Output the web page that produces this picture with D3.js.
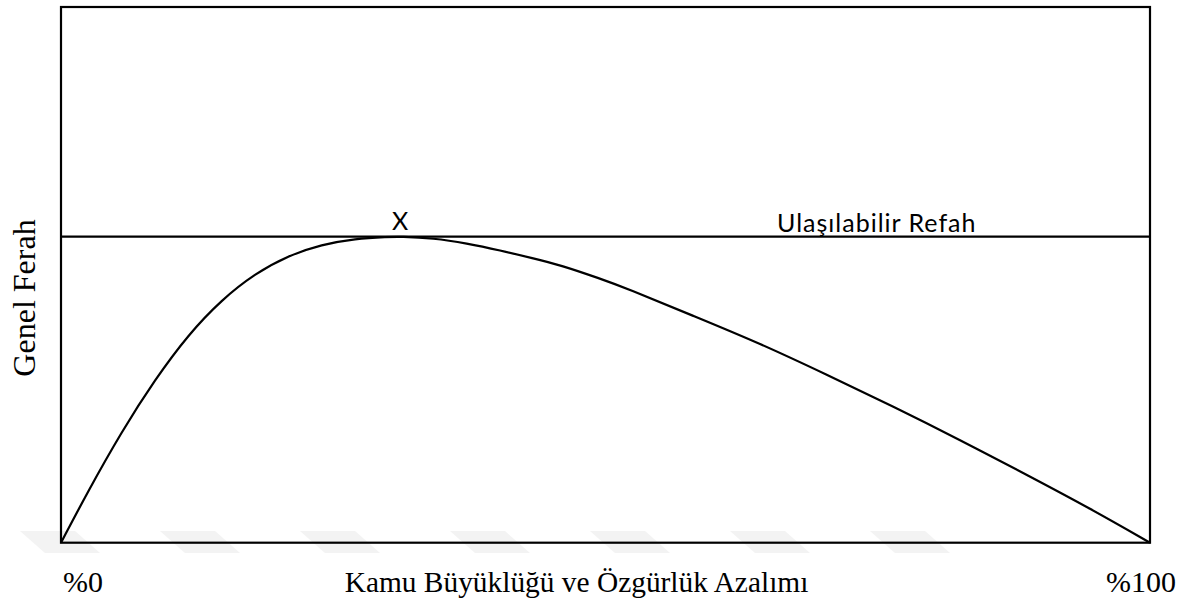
<!DOCTYPE html>
<html>
<head>
<meta charset="utf-8">
<script src="https://cdn.jsdelivr.net/npm/d3@7"></script>
<style>
  html, body { margin: 0; padding: 0; background: #fff; }
  svg { display: block; }
</style>
</head>
<body>
<svg id="chart" width="1188" height="603"></svg>
<script>
// ---- data ----
const curveX = [0, 2.51, 5.57, 8.63, 11.69, 14.76, 17.81, 20.87, 23.94, 27.0, 30.05, 31.13, 34.19, 37.25, 40.31, 43.37, 45.82, 49.49, 51.94, 58.06, 64.19, 70.31, 76.43, 82.55, 88.98, 94.49, 100];
const curveY = [0, 0.170, 0.363, 0.533, 0.680, 0.794, 0.879, 0.938, 0.974, 0.993, 0.999, 1.0, 0.995, 0.978, 0.955, 0.929, 0.9075, 0.863, 0.831, 0.741, 0.651, 0.549, 0.445, 0.336, 0.216, 0.112, 0];
const attainableLevel = 1.0;
const peakX = 31.13;
const xTickValues = [0, 100];
const xTickLabels = ["%0", "%100"];
const xTitle = "Kamu Büyüklüğü ve Özgürlük Azalımı";
const yTitle = "Genel Ferah";
const lineLabel = "Ulaşılabilir Refah";
const peakLabel = "X";
const watermarkX = [20, 160, 300, 450, 590, 730, 870];

// ---- drawing ----
const svg = d3.select("#chart");
const x = d3.scaleLinear().domain([0, 100]).range([61, 1150]);
const y = d3.scaleLinear().domain([0, 1.75]).range([542.7, 7]);

// faint watermark chevrons
svg.append("g").selectAll("path").data(watermarkX).join("path")
  .attr("d", d => `M${d},531 L${d + 55},531 L${d + 80},553 L${d + 25},553 Z`)
  .attr("fill", "#f3f3f3");

// frame
svg.append("rect")
  .attr("x", x(0)).attr("y", y(1.75))
  .attr("width", x(100) - x(0)).attr("height", y(0) - y(1.75))
  .attr("fill", "none").attr("stroke", "#000").attr("stroke-width", 2.2);

// attainable welfare line
svg.append("line")
  .attr("x1", x(0)).attr("x2", x(100))
  .attr("y1", y(attainableLevel)).attr("y2", y(attainableLevel))
  .attr("stroke", "#000").attr("stroke-width", 2.2);

// curve
const pts = curveX.map((v, i) => [v, curveY[i]]);
svg.append("path")
  .datum(pts)
  .attr("d", d3.line().x(d => x(d[0])).y(d => y(d[1])).curve(d3.curveBasis))
  .attr("fill", "none").attr("stroke", "#000").attr("stroke-width", 2.2);

// labels on line
const sans = "Lato, 'Open Sans', sans-serif";
svg.append("text")
  .attr("x", x(peakX)).attr("y", y(attainableLevel) - 7)
  .attr("text-anchor", "middle")
  .style("font-family", sans).style("font-size", "25px")
  .text(peakLabel);

svg.append("text")
  .attr("x", 777).attr("y", y(attainableLevel) - 5)
  .attr("text-anchor", "start")
  .style("font-family", sans).style("font-size", "25px")
  .style("letter-spacing", "1px")
  .text(lineLabel);

// x tick labels
const serif = "'Liberation Serif', 'Times New Roman', serif";
svg.append("text")
  .attr("x", x(xTickValues[0]) + 2).attr("y", 592)
  .attr("text-anchor", "start")
  .style("font-family", serif).style("font-size", "30px")
  .text(xTickLabels[0]);
svg.append("text")
  .attr("x", x(xTickValues[1]) + 26).attr("y", 592)
  .attr("text-anchor", "end")
  .style("font-family", serif).style("font-size", "30px")
  .text(xTickLabels[1]);

// axis titles
svg.append("text")
  .attr("x", 576.5).attr("y", 592)
  .attr("text-anchor", "middle")
  .style("font-family", serif).style("font-size", "29.4px")
  .text(xTitle);

svg.append("text")
  .attr("transform", "translate(35,298) rotate(-90)")
  .attr("text-anchor", "middle")
  .style("font-family", serif).style("font-size", "32px")
  .text(yTitle);
</script>
</body>
</html>
